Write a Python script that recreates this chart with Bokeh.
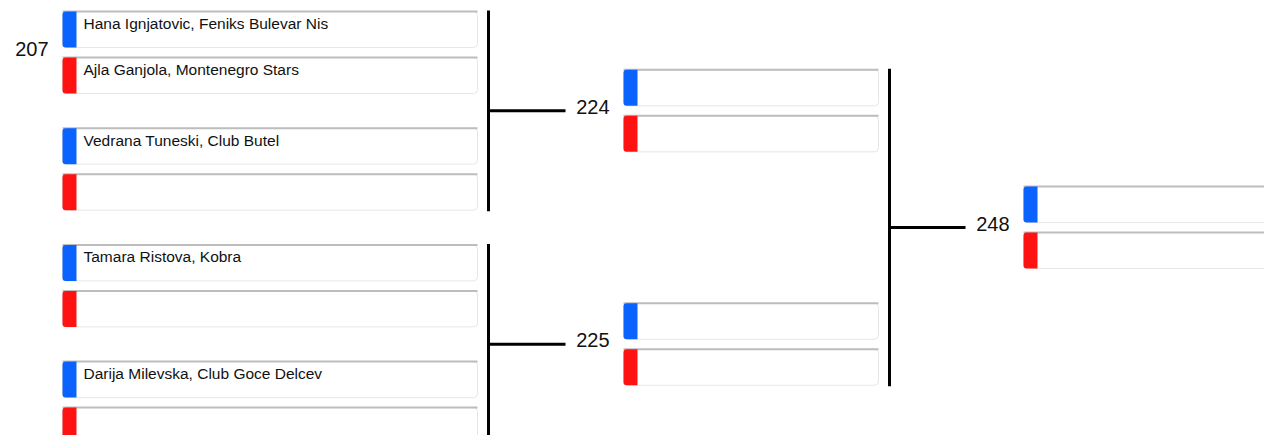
from bokeh.plotting import figure
from bokeh.models import Range1d, ColumnDataSource
from bokeh.embed import file_html
from bokeh.resources import INLINE
from bokeh.core.properties import value

# ---- data ----
r1_match_ids = ["207", "", "", ""]
r1_top_players = ["Hana Ignjatovic, Feniks Bulevar Nis", "Vedrana Tuneski, Club Butel",
                  "Tamara Ristova, Kobra", "Darija Milevska, Club Goce Delcev"]
r1_bottom_players = ["Ajla Ganjola, Montenegro Stars", "", "", ""]
r2_match_ids = ["224", "225"]
r2_top_players = ["", ""]
r2_bottom_players = ["", ""]
r3_match_ids = ["248"]
r3_top_players = [""]
r3_bottom_players = [""]

# ---- layout params ----
W, H = 1264, 435
box_left = [62, 623, 1023]
box_right = [477, 878, 1280]
first_top = 11
pitch = 116.7
half = 41
gap = 5
BLUE = "#0a62ff"
RED = "#ff1212"

p = figure(width=W, height=H, x_range=Range1d(0, W), y_range=Range1d(H, 0),
           output_backend="svg", toolbar_location=None, min_border=0,
           x_axis_location=None, y_axis_location=None)
p.grid.visible = False
p.outline_line_color = None
p.background_fill_color = "white"
p.border_fill_color = "white"

rounds = [
    (r1_match_ids, r1_top_players, r1_bottom_players),
    (r2_match_ids, r2_top_players, r2_bottom_players),
    (r3_match_ids, r3_top_players, r3_bottom_players),
]

centers = [[first_top + pitch * i + half for i in range(len(r1_match_ids))]]
for r in range(1, len(rounds)):
    prev = centers[-1]
    centers.append([(prev[2 * k] + prev[2 * k + 1]) / 2 for k in range(len(prev) // 2)])

box = dict(left=[], right=[], top=[], bottom=[], color=[])
names = dict(x=[], y=[], text=[])
labels = dict(x=[], y=[], text=[])
for r, (ids, tops, bots) in enumerate(rounds):
    L, R = box_left[r], box_right[r]
    for i, c in enumerate(centers[r]):
        for (t, b, col, nm) in [(c - half, c - gap, BLUE, tops[i]), (c + gap, c + half, RED, bots[i])]:
            box["left"].append(L); box["right"].append(R)
            box["top"].append(t); box["bottom"].append(b); box["color"].append(col)
            names["x"].append(L + 21); names["y"].append(t + 12); names["text"].append(nm)
        labels["x"].append(L - 14); labels["y"].append(c - 4); labels["text"].append(ids[i])

src = ColumnDataSource(box)
# box body
p.quad(left="left", right="right", top="top", bottom="bottom", source=src,
       fill_color="white", line_color="#e6e6e6", line_width=1, border_radius=4)
# top shading
p.segment(x0="left", x1="right", y0="top", y1="top", source=src,
          line_color="#bdbdbd", line_width=2)
# color stripe
stripe = ColumnDataSource(dict(left=box["left"], right=[l + 14 for l in box["left"]],
                               top=box["top"], bottom=box["bottom"], color=box["color"]))
p.quad(left="left", right="right", top="top", bottom="bottom", source=stripe,
       fill_color="color", line_color=None, border_radius=dict(top_left=3, bottom_left=3))

p.text(x="x", y="y", text="text", source=ColumnDataSource(names),
       text_font=value("Liberation Sans"), text_font_size="15.5px", text_color="#111111",
       text_baseline="middle", text_align="left")
p.text(x="x", y="y", text="text", source=ColumnDataSource(labels),
       text_font=value("Liberation Sans"), text_font_size="20px", text_color="#111111",
       text_baseline="middle", text_align="right")

# connectors
vx, vy0, vy1, hx0, hx1, hy = [], [], [], [], [], []
for r in range(len(rounds) - 1):
    x = box_right[r] + 11
    for k in range(len(centers[r]) // 2):
        a, b = centers[r][2 * k], centers[r][2 * k + 1]
        vx.append(x); vy0.append(a - half - 1); vy1.append(b + half + 1)
        hx0.append(x); hx1.append(box_left[r + 1] - 58); hy.append((a + b) / 2)
p.segment(x0=vx, x1=vx, y0=vy0, y1=vy1, line_color="black", line_width=3)
p.segment(x0=hx0, x1=hx1, y0=hy, y1=hy, line_color="black", line_width=3)

open("out.html", "w").write(file_html(p, INLINE))
